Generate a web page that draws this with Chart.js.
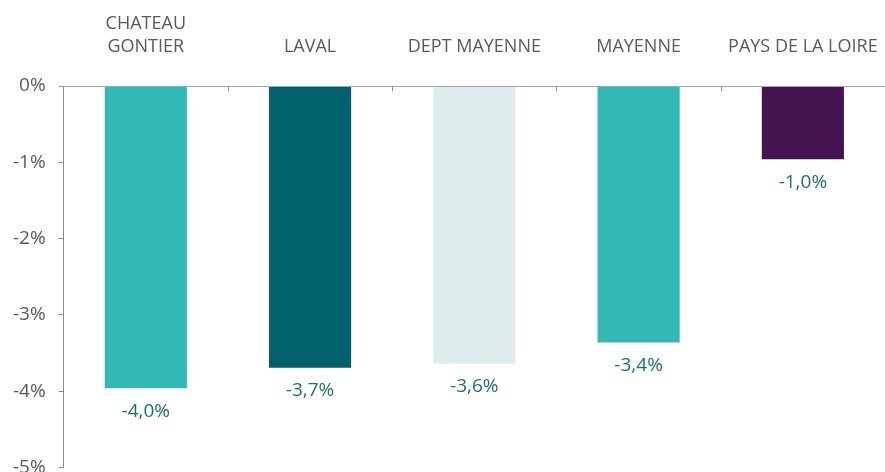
<!DOCTYPE html>
<html>
<head>
<meta charset="utf-8">
<script src="https://cdn.jsdelivr.net/npm/chart.js@4/dist/chart.umd.min.js"></script>
<style>
html,body{margin:0;padding:0;background:#fff;overflow:hidden;}
#wrap{position:relative;width:885px;height:492px;}
</style>
</head>
<body>
<div id="wrap"><canvas id="c"></canvas></div>
<script>
const categories = [['CHATEAU','GONTIER'], 'LAVAL', 'DEPT MAYENNE', 'MAYENNE', 'PAYS DE LA LOIRE'];
const values = [-3.96, -3.69, -3.64, -3.36, -0.96];
const valueLabels = ['-4,0%', '-3,7%', '-3,6%', '-3,4%', '-1,0%'];
const barColors = ['#33B8B8', '#00616C', '#DFECEE', '#33B8B8', '#451350'];
const yTicks = [0, -1, -2, -3, -4, -5];

const FONT = "'Open Sans', sans-serif";

const valueLabelPlugin = {
  id: 'valueLabels',
  afterDatasetsDraw(chart) {
    const ctx = chart.ctx;
    const meta = chart.getDatasetMeta(0);
    ctx.save();
    ctx.font = '19px ' + FONT;
    ctx.fillStyle = '#1B6F7B';
    ctx.textAlign = 'center';
    ctx.textBaseline = 'middle';
    meta.data.forEach((bar, i) => {
      ctx.fillText(valueLabels[i], bar.x, bar.y + 23);
    });
    ctx.restore();
  }
};

const tickMarkPlugin = {
  id: 'downTicks',
  afterDatasetsDraw(chart) {
    const ctx = chart.ctx;
    const xs = chart.scales.x;
    const y0 = chart.scales.y.getPixelForValue(0);
    ctx.save();
    ctx.strokeStyle = '#8c8c8c';
    ctx.lineWidth = 1;
    const n = categories.length;
    const step = (xs.right - xs.left) / n;
    for (let i = 1; i < n; i++) {
      const x = Math.round(xs.left + step * i) + 0.5;
      ctx.beginPath();
      ctx.moveTo(x, y0);
      ctx.lineTo(x, y0 + 5);
      ctx.stroke();
    }
    ctx.strokeStyle = '#a6a6a6';
    ctx.beginPath();
    ctx.moveTo(xs.left - 5, Math.round(y0) + 0.5);
    ctx.lineTo(xs.right, Math.round(y0) + 0.5);
    ctx.stroke();
    ctx.restore();
  }
};

new Chart(document.getElementById('c'), {
  type: 'bar',
  data: {
    labels: categories,
    datasets: [{
      data: values,
      backgroundColor: barColors,
      borderWidth: 0,
      barPercentage: 0.5,
      categoryPercentage: 1.0
    }]
  },
  options: {
    responsive: true,
    maintainAspectRatio: false,
    animation: false,
    layout: { padding: { left: 0, right: 0, top: 10, bottom: 0 } },
    plugins: { legend: { display: false }, tooltip: { enabled: false } },
    scales: {
      x: {
        position: 'top',
        grid: { display: true, drawOnChartArea: false, drawTicks: true, tickLength: 26, color: 'rgba(0,0,0,0)' },
        border: { display: false },
        ticks: {
          color: '#595959',
          font: { family: FONT, size: 18, lineHeight: 1.28 },
          padding: 2,
          maxRotation: 0,
          autoSkip: false
        }
      },
      y: {
        min: -5,
        max: 0,
        afterBuildTicks(scale) { scale.ticks = yTicks.map(v => ({ value: v })); },
        grid: { drawOnChartArea: false, drawTicks: true, tickLength: 5, color: '#8c8c8c' },
        border: { display: true, color: '#8c8c8c', width: 1 },
        ticks: {
          color: '#595959',
          font: { family: FONT, size: 19 },
          padding: 13,
          callback: v => v + '%'
        }
      }
    }
  },
  plugins: [valueLabelPlugin, tickMarkPlugin]
});
</script>
</body>
</html>
